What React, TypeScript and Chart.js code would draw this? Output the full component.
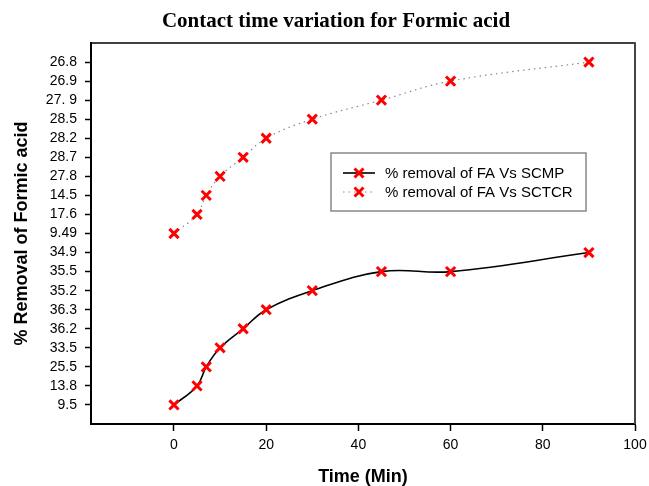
import React, { useEffect, useRef } from "react";
import { Chart, registerables } from "chart.js";

Chart.register(...registerables);

const TITLE = "Contact time variation for Formic acid";
const X_TITLE = "Time (Min)";
const Y_TITLE = "% Removal of Formic acid";

// contact times (min)
const times = [0, 5, 7, 10, 15, 20, 30, 45, 60, 90];
// y tick labels, bottom to top (as printed on the axis)
const yTickLabels = [
  "9.5", "13.8", "25.5", "33.5", "36.2", "36.3", "35.2", "35.5", "34.9",
  "9.49", "17.6", "14.5", "27.8", "28.7", "28.2", "28.5", "27. 9", "26.9", "26.8",
];
const xTicks = [0, 20, 40, 60, 80, 100];

const scmpLabel = "% removal of FA Vs SCMP";
const scmpValues = ["9.5", "13.8", "25.5", "33.5", "36.2", "36.3", "35.2", "35.5", "35.5", "34.9"];
const sctcrLabel = "% removal of FA Vs SCTCR";
const sctcrValues = ["9.49", "17.6", "14.5", "27.8", "28.7", "28.2", "28.5", "27. 9", "26.9", "26.8"];

function toPoints(values: string[], offset: number) {
  return values.map((v, i) => {
    let idx = yTickLabels.indexOf(v, offset);
    if (idx < 0) idx = yTickLabels.indexOf(v);
    return { x: times[i], y: idx };
  });
}

const frameAndText = {
  id: "frameAndText",
  afterDraw(chart: any) {
    const { ctx, chartArea } = chart;
    const { left, right, top, bottom } = chartArea;
    ctx.save();
    // frame top / right
    ctx.strokeStyle = "#000";
    ctx.lineWidth = 1.5;
    ctx.beginPath();
    ctx.moveTo(left, top);
    ctx.lineTo(right, top);
    ctx.stroke();
    ctx.strokeStyle = "#444";
    ctx.lineWidth = 2;
    ctx.beginPath();
    ctx.moveTo(right, top - 0.75);
    ctx.lineTo(right, bottom);
    ctx.stroke();

    // title
    ctx.fillStyle = "#000";
    ctx.font = "bold 21px 'Liberation Serif', 'Times New Roman', serif";
    ctx.textAlign = "center";
    ctx.textBaseline = "middle";
    ctx.fillText(TITLE, 336, 22);

    // axis titles
    ctx.font = "bold 18px 'Liberation Sans', Arial, sans-serif";
    ctx.fillText(X_TITLE, (left + right) / 2, 477);
    ctx.save();
    ctx.translate(22, (top + bottom) / 2);
    ctx.rotate(-Math.PI / 2);
    ctx.fillText(Y_TITLE, 0, 0);
    ctx.restore();

    // legend
    const bx = 331, by = 153, bw = 255, bh = 58;
    ctx.fillStyle = "#fff";
    ctx.fillRect(bx, by, bw, bh);
    ctx.strokeStyle = "#888";
    ctx.lineWidth = 1.5;
    ctx.strokeRect(bx, by, bw, bh);
    const rows = [173, 192];
    chart.data.datasets.forEach((ds: any, i: number) => {
      const y = rows[i];
      ctx.save();
      ctx.strokeStyle = ds.borderColor;
      ctx.lineWidth = ds.borderWidth;
      ctx.setLineDash(ds.borderDash || []);
      ctx.beginPath();
      ctx.moveTo(343, y);
      ctx.lineTo(375, y);
      ctx.stroke();
      ctx.restore();
      // X marker
      ctx.save();
      ctx.strokeStyle = ds.pointBorderColor;
      ctx.lineWidth = ds.pointBorderWidth;
      const d = 4.5;
      ctx.beginPath();
      ctx.moveTo(359 - d, y - d);
      ctx.lineTo(359 + d, y + d);
      ctx.moveTo(359 - d, y + d);
      ctx.lineTo(359 + d, y - d);
      ctx.stroke();
      ctx.restore();
      ctx.fillStyle = "#000";
      ctx.font = "15px 'Liberation Sans', Arial, sans-serif";
      ctx.textAlign = "left";
      ctx.textBaseline = "middle";
      ctx.fillText(ds.label, 385, y + 1);
    });
    ctx.restore();
  },
};

export default function App() {
  const ref = useRef<HTMLCanvasElement | null>(null);

  useEffect(() => {
    if (!ref.current) return;
    const tickFont = { family: "'Liberation Sans', Arial, sans-serif", size: 14 };
    const chart = new Chart(ref.current, {
      type: "line",
      data: {
        datasets: [
          {
            label: scmpLabel,
            data: toPoints(scmpValues, 0),
            borderColor: "#000",
            borderWidth: 1.6,
            tension: 0.4,
            pointStyle: "crossRot",
            pointRadius: 6.5,
            pointBorderColor: "#ff0000",
            pointBackgroundColor: "#ff0000",
            pointBorderWidth: 3,
            fill: false,
          } as any,
          {
            label: sctcrLabel,
            data: toPoints(sctcrValues, 9),
            borderColor: "#888",
            borderWidth: 1.2,
            borderDash: [1.5, 4],
            tension: 0.4,
            pointStyle: "crossRot",
            pointRadius: 6.5,
            pointBorderColor: "#ff0000",
            pointBackgroundColor: "#ff0000",
            pointBorderWidth: 3,
            fill: false,
          } as any,
        ],
      },
      plugins: [frameAndText],
      options: {
        responsive: false,
        animation: false,
        layout: { padding: { left: 0, right: 14, top: 43, bottom: 0 } },
        plugins: {
          legend: { display: false },
          title: { display: false },
          tooltip: { enabled: false },
        },
        scales: {
          x: {
            type: "linear",
            min: -18,
            max: 100,
            afterBuildTicks: (axis: any) => {
              axis.ticks = xTicks.map((v) => ({ value: v }));
            },
            afterFit: (axis: any) => {
              axis.height = 62;
              axis.paddingLeft = 0;
              axis.paddingRight = 0;
            },
            grid: {
              drawOnChartArea: false,
              drawTicks: true,
              tickLength: 7,
              tickColor: "#000",
              tickWidth: 1.5,
            },
            border: { color: "#000", width: 2 },
            ticks: {
              color: "#000",
              font: tickFont,
              padding: 6,
              maxRotation: 0,
              autoSkip: false,
            },
          },
          y: {
            type: "linear",
            min: -1,
            max: 19,
            afterBuildTicks: (axis: any) => {
              axis.ticks = yTickLabels.map((_, i) => ({ value: i }));
            },
            afterFit: (axis: any) => {
              axis.width = 91;
              axis.paddingTop = 0;
              axis.paddingBottom = 0;
            },
            grid: {
              drawOnChartArea: false,
              drawTicks: true,
              tickLength: 6,
              tickColor: "#000",
              tickWidth: 1.5,
            },
            border: { color: "#000", width: 2 },
            ticks: {
              color: "#000",
              font: tickFont,
              padding: 8,
              autoSkip: false,
              callback: (v: any) => yTickLabels[v as number] ?? "",
            },
          },
        },
      },
    });
    return () => chart.destroy();
  }, []);

  return (
    <div style={{ position: "fixed", left: 0, top: 0, width: 649, height: 486, background: "#fff" }}>
      <canvas ref={ref} width={649} height={486} style={{ display: "block" }} />
    </div>
  );
}
